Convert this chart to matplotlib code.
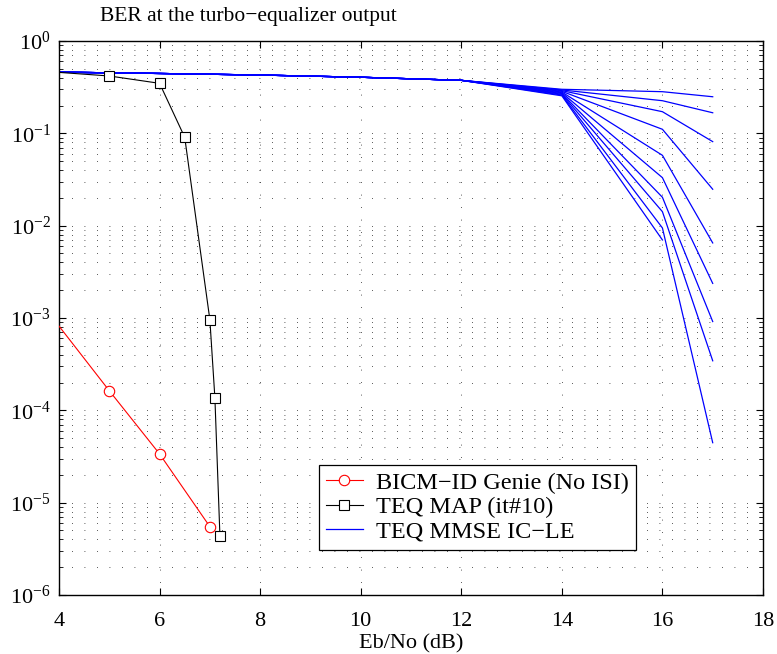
import numpy as np
import matplotlib
matplotlib.use("Agg")
import matplotlib.pyplot as plt
from matplotlib.ticker import LogLocator, NullFormatter, MultipleLocator

plt.rcParams['font.family'] = ['Liberation Serif', 'DejaVu Serif']
plt.rcParams['mathtext.fontset'] = 'custom'
plt.rcParams['mathtext.rm'] = 'Liberation Serif'
plt.rcParams['mathtext.it'] = 'Liberation Serif:italic'
plt.rcParams['mathtext.bf'] = 'Liberation Serif:bold'

# ---- data ----
genie_x = [3, 5, 6, 7]
genie_y = [4.1e-3, 1.63e-4, 3.37e-5, 5.5e-6]

map_x = [3, 5, 6, 6.5, 7, 7.1, 7.2]
map_y = [0.50, 0.418, 0.348, 0.0906, 9.6e-4, 1.37e-4, 4.4e-6]

mmse_x = [4, 6, 8, 10, 12, 14, 16, 17]
mmse_common = [0.46, 0.445, 0.428, 0.405, 0.375]   # x = 4..12
mmse_14 = [0.300, 0.295, 0.290, 0.285, 0.280, 0.275, 0.270, 0.265, 0.260, 0.255]
mmse_16 = [0.2825, 0.2256, 0.1715, 0.1106, 0.0578, 0.0331, 0.0203, 0.01417, 0.00944, 0.0070]
mmse_17 = [0.249, 0.167, 0.0813, 0.0248, 0.0065, 0.00237, 0.000915, 0.000344, 4.46e-5, np.nan]

title = "BER at the turbo\u2212equalizer output"
xlabel = "Eb/No (dB)"
labels = ["BICM\u2212ID Genie (No ISI)", "TEQ MAP (it#10)", "TEQ MMSE IC\u2212LE"]

fig = plt.figure(figsize=(7.77, 6.54), dpi=100)
ax = fig.add_axes([59/777, 59/654, 704/777, 554/654])

fs = 16
dot = (0, (1, 14))
for i in range(len(mmse_14)):
    ys = list(mmse_common) + [mmse_14[i], mmse_16[i], mmse_17[i]]
    ax.plot(mmse_x, ys, color='#0000ff', lw=0.9,
            label=labels[2] if i == 0 else None, zorder=2)

ax.plot(map_x, map_y, color='black', lw=0.8, marker='s', ms=6.5,
        mfc='white', mec='black', mew=0.8, label=labels[1], zorder=3)
ax.plot(genie_x, genie_y, color='red', lw=0.8, marker='o', ms=7.5,
        mfc='white', mec='red', mew=0.8, label=labels[0], zorder=3)

ax.set_yscale('log')
ax.set_xlim(4, 18)
ax.set_ylim(1e-6, 1)
ax.xaxis.set_major_locator(MultipleLocator(2))
ax.yaxis.set_major_locator(LogLocator(base=10, numticks=10))
ax.yaxis.set_minor_locator(LogLocator(base=10, subs=np.arange(2, 10), numticks=100))
ax.yaxis.set_minor_formatter(NullFormatter())

ax.grid(True, which='major', axis='both', color='#222222', linestyle=dot, lw=0.6)
ax.grid(True, which='minor', axis='y', color='#222222', linestyle=dot, lw=0.6)

ax.tick_params(which='both', direction='in', top=True, right=True, labelsize=fs)
ax.tick_params(which='major', length=5, width=0.8)
ax.tick_params(which='minor', length=3, width=0.6)
ax.tick_params(axis='x', pad=12)
ax.tick_params(axis='y', pad=6)
for s in ax.spines.values():
    s.set_linewidth(1.0)

fig.text(411/777, 1 - 648/654, xlabel, fontsize=fs, ha='center', va='baseline')
fig.text(100/777, 1 - 16/654, title, fontsize=15.5, ha='left', va='center')

h, l = ax.get_legend_handles_labels()
order = [l.index(x) for x in labels]
leg = ax.legend([h[k] for k in order], [l[k] for k in order], fontsize=17.5,
                loc='lower left', bbox_to_anchor=(0.369, 0.081),
                frameon=True, fancybox=False, framealpha=1, edgecolor='black',
                borderpad=0.3, labelspacing=0.1, handlelength=1.5, handletextpad=0.55,
                borderaxespad=0)
leg.get_frame().set_linewidth(0.9)

fig.savefig("out.png", dpi=100)
